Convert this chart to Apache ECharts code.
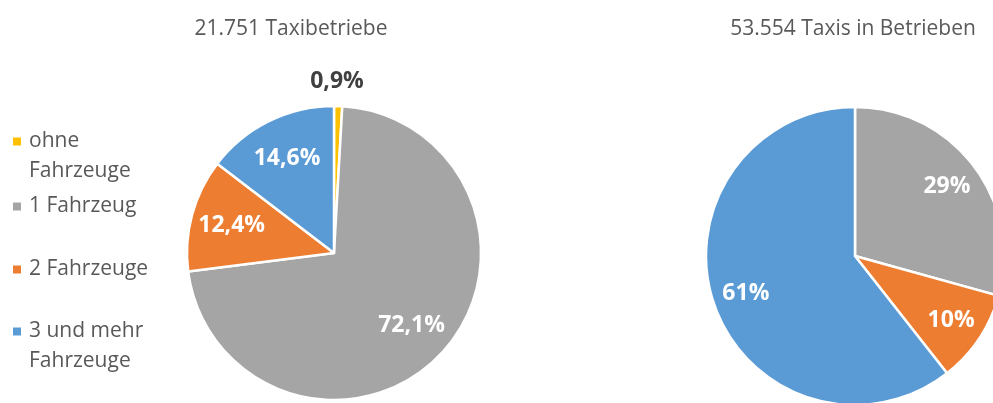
<!DOCTYPE html>
<html><head><meta charset="utf-8">
<script src="https://cdn.jsdelivr.net/npm/echarts@6/dist/echarts.min.js"></script>
<style>html,body{margin:0;padding:0;background:#fff}#c{width:993px;height:403px}</style>
</head><body><div id="c"></div>
<script>
const categories = ['ohne Fahrzeuge', '1 Fahrzeug', '2 Fahrzeuge', '3 und mehr Fahrzeuge'];
const legendLines = [['ohne', 'Fahrzeuge'], ['1 Fahrzeug'], ['2 Fahrzeuge'], ['3 und mehr', 'Fahrzeuge']];
const betriebeShare = [0.9, 72.1, 12.4, 14.6];
const taxisShare = [0, 29.3, 10.1, 60.6];
const chartTitles = ['21.751 Taxibetriebe', '53.554 Taxis in Betrieben'];
const colors = ['#FFC000', '#A5A5A5', '#ED7D31', '#5B9BD5'];

const FONT = '"Open Sans", sans-serif';
const TEXT = '#595959';
const legendTops = [131, 196, 259, 321];

function pieData(values, labelOverride) {
  return categories.map((name, i) => {
    const d = { name: name, value: values[i], itemStyle: { color: colors[i] } };
    if (labelOverride && labelOverride[i]) d.label = labelOverride[i];
    return d;
  });
}

function mainPie(values, center, r) {
  return {
    type: 'pie', center: center, radius: r, startAngle: 90, clockwise: true,
    animation: false, silent: true,
    label: { show: false }, labelLine: { show: false },
    itemStyle: { borderColor: '#fff', borderWidth: 2.5 },
    data: pieData(values)
  };
}

function labelPie(values, center, r0, r, fmt, override) {
  return {
    type: 'pie', center: center, radius: [r0, r], startAngle: 90, clockwise: true,
    animation: false, silent: true,
    itemStyle: { color: 'transparent', borderWidth: 0 },
    labelLine: { show: false },
    label: {
      show: true, position: 'inside', formatter: fmt,
      color: '#fff', fontFamily: FONT, fontWeight: 'bold', fontSize: 23
    },
    data: pieData(values, override).map(d => Object.assign(d, { itemStyle: { color: 'transparent' } }))
  };
}

const chart = echarts.init(document.getElementById('c'), null, { renderer: 'canvas' });
chart.setOption({
  backgroundColor: '#fff',
  animation: false,
  title: [
    { text: chartTitles[0], left: 286, top: 14, textAlign: 'center',
      textStyle: { fontFamily: FONT, fontSize: 21, fontWeight: 'normal', color: TEXT } },
    { text: chartTitles[1], left: 848, top: 14, textAlign: 'center',
      textStyle: { fontFamily: FONT, fontSize: 21, fontWeight: 'normal', color: TEXT } }
  ],
  legend: legendLines.map((lines, i) => ({
    data: [categories[i]], orient: 'vertical', left: 7, top: legendTops[i],
    padding: 0, icon: 'rect', itemWidth: 0, itemHeight: 0, selectedMode: false,
    formatter: () => lines.map((l, k) => k === 0 ? '{m|}{t|' + l + '}' : '{s|' + l + '}').join('\n'),
    textStyle: {
      rich: {
        m: { width: 8, height: 8, backgroundColor: colors[i] },
        t: { fontFamily: FONT, fontSize: 21, color: TEXT, lineHeight: 30, padding: [0, 0, 0, 8] },
        s: { fontFamily: FONT, fontSize: 21, color: TEXT, lineHeight: 30, padding: [0, 0, 0, 16] }
      }
    }
  })),
  series: [
    mainPie(betriebeShare, [334, 253], 147),
    mainPie(taxisShare, [855, 256], 149),
    labelPie(betriebeShare, [334, 253], 59, 147,
      p => p.value.toFixed(1).replace('.', ',') + '%',
      [{ color: '#404040', offset: [0, -66] }]),
    labelPie(taxisShare, [855, 256], 76, 149,
      p => p.value ? Math.round(p.percent) + '%' : '')
  ]
});
</script></body></html>
